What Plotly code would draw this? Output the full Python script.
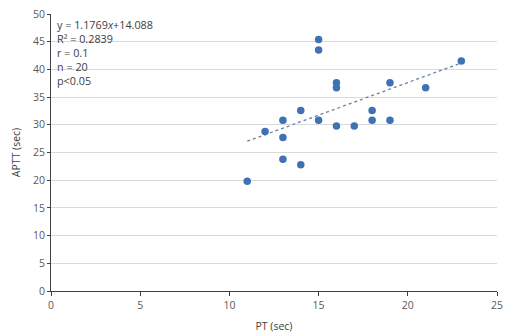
import numpy as np
import plotly.graph_objects as go

pt = [11, 12, 13, 13, 13, 14, 14, 15, 15, 15, 16, 16, 16, 17, 18, 18, 19, 19, 21, 23]
aptt = [19.8, 28.8, 30.8, 27.7, 23.8, 32.6, 22.8, 45.4, 43.5, 30.8, 37.6, 36.7, 29.8,
        29.8, 32.6, 30.8, 37.6, 30.8, 36.7, 41.5]
slope = 1.1769
intercept = 14.088
stats_lines = ["y = 1.1769<i>x</i>+14.088", "R² = 0.2839", "r = 0.1", "n = 20", "p<0.05"]

x_fit = np.array([min(pt), max(pt)])
y_fit = slope * x_fit + intercept

fig = go.Figure()
fig.add_trace(go.Scatter(x=x_fit, y=y_fit, mode="lines",
                         line=dict(color="#6a80a3", width=1.3, dash="dot"),
                         hoverinfo="skip", showlegend=False))
fig.add_trace(go.Scatter(x=pt, y=aptt, mode="markers",
                         marker=dict(color="#3f72b5", size=7.5),
                         showlegend=False))

fig.add_annotation(x=0, y=1, xref="paper", yref="paper", xanchor="left", yanchor="top",
                   xshift=4, yshift=-1,
                   text="<br>".join(stats_lines), showarrow=False, align="left",
                   font=dict(family="Open Sans, sans-serif", size=10.8, color="#404040"))

axis_font = dict(family="Open Sans, sans-serif", size=10.5, color="#595959")
fig.update_layout(
    width=517, height=334,
    margin=dict(l=51, r=20, t=14, b=43),
    plot_bgcolor="white", paper_bgcolor="white",
    font=dict(family="Open Sans, sans-serif", size=11, color="#595959"),
    xaxis=dict(range=[0, 25], tickvals=[0, 5, 10, 15, 20, 25], showgrid=False,
               showline=True, linecolor="#404040", linewidth=1,
               ticks="outside", ticklen=4, tickcolor="#404040",
               zeroline=False, tickfont=axis_font, automargin=False,
               title=dict(text="PT (sec)", font=dict(size=10.5, color="#404040"), standoff=12)),
    yaxis=dict(range=[0, 50], dtick=5, showgrid=True, gridcolor="#d9d9d9", gridwidth=1,
               showline=True, linecolor="#404040", linewidth=1,
               ticks="outside", ticklen=3, tickcolor="#404040",
               zeroline=False, tickfont=axis_font, automargin=False,
               title=dict(text="APTT (sec)", font=dict(size=10.5, color="#404040"), standoff=10)),
)

fig.write_html("out.html")
